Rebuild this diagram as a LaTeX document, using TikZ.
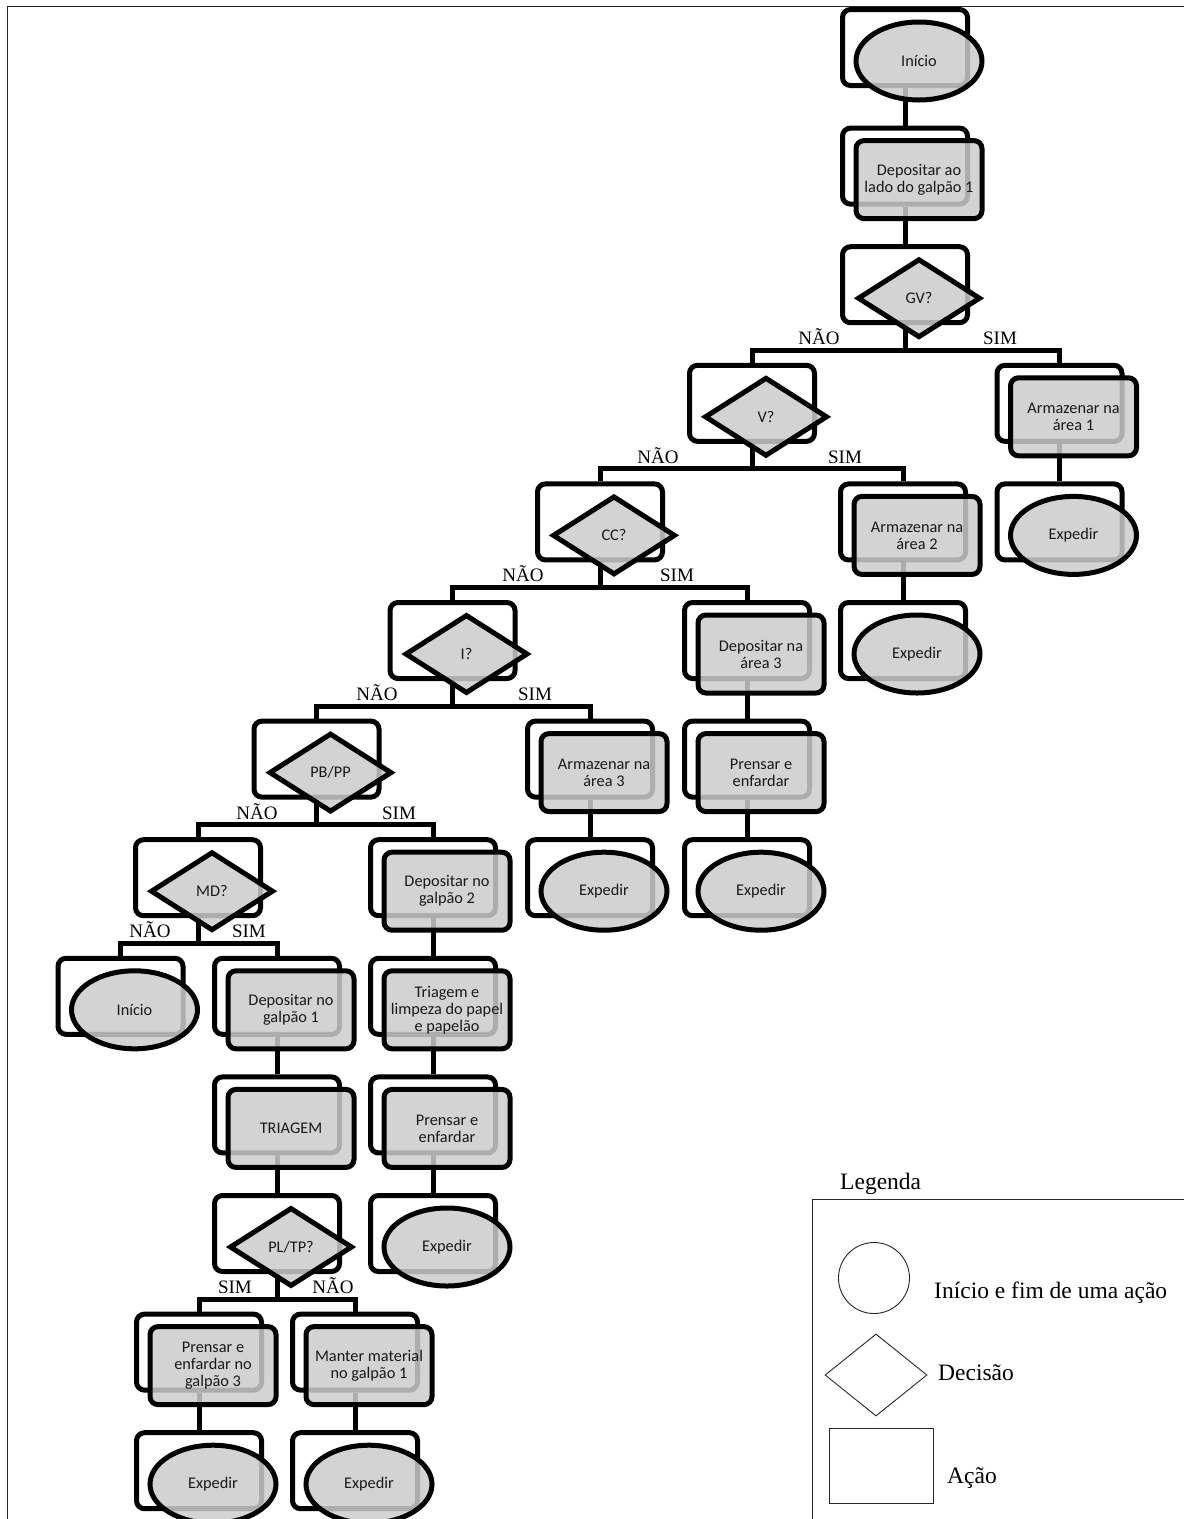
\documentclass[tikz,border=0pt]{standalone}
\usepackage{fontspec}
\setmainfont{Liberation Serif}
\newfontfamily\carlito{Carlito}
\usetikzlibrary{shapes.geometric}
\definecolor{cinzaclaro}{gray}{0.8}

\begin{document}
\begin{tikzpicture}[x=1pt, y=-1pt,
	moldura/.style={draw=black, fill=white, line width=5pt, rounded corners=8pt, shape=rectangle, minimum width=125pt, minimum height=76pt},
	forma/.style={draw=black, fill=cinzaclaro, fill opacity=0.85, text opacity=1, line width=5pt, inner sep=1pt, align=center, text=black!90, font=\carlito\fontsize{16.3}{17}\selectfont},
	acao/.style={forma, shape=rectangle, rounded corners=8pt, minimum width=126pt, minimum height=78pt},
	fim/.style={forma, shape=ellipse, minimum width=126pt, minimum height=78pt},
	decisao/.style={forma, shape=diamond, minimum width=123pt, minimum height=79pt},
	ligacao/.style={draw=black, line width=5pt},
	rotulo/.style={font=\fontsize{19}{20}\selectfont, anchor=base, inner sep=0pt},
	legenda/.style={draw=black!85, line width=0.9pt},
	textolegenda/.style={font=\fontsize{23.5}{26}\selectfont, anchor=base west, inner sep=0pt}]

	\useasboundingbox (0,0) rectangle (1184,1519);
	\clip (0,0) rectangle (1184,1519);
	\draw[legenda] (7.5,6.5) rectangle (1200,1530);

	% molduras brancas
	\node[moldura] (f_inicio) at (905,47.5) {};
	\node[moldura] (f_dep_lado) at (905,166.1) {};
	\node[moldura] (f_gv) at (905,284.7) {};
	\node[moldura] (f_v) at (752,403.3) {};
	\node[moldura] (f_area1) at (1059.5,403.3) {};
	\node[moldura] (f_cc) at (600,521.9) {};
	\node[moldura] (f_area2) at (903,521.9) {};
	\node[moldura] (f_exp_a1) at (1059.5,521.9) {};
	\node[moldura] (f_i) at (452.5,640.5) {};
	\node[moldura] (f_dep_a3) at (747,640.5) {};
	\node[moldura] (f_exp_a2) at (903,640.5) {};
	\node[moldura] (f_pbpp) at (316.5,759.1) {};
	\node[moldura] (f_area3) at (590,759.1) {};
	\node[moldura] (f_prensar_a) at (747,759.1) {};
	\node[moldura] (f_md) at (198,877.7) {};
	\node[moldura] (f_dep_g2) at (433,877.7) {};
	\node[moldura] (f_exp_a3) at (590,877.7) {};
	\node[moldura] (f_exp_pa) at (747,877.7) {};
	\node[moldura] (f_inicio_2) at (120.5,996.3) {};
	\node[moldura] (f_dep_g1) at (277,996.3) {};
	\node[moldura] (f_triag_limp) at (433,996.3) {};
	\node[moldura] (f_triagem) at (277,1114.9) {};
	\node[moldura] (f_prensar_b) at (433,1114.9) {};
	\node[moldura] (f_pltp) at (277,1233.5) {};
	\node[moldura] (f_exp_pb) at (433,1233.5) {};
	\node[moldura] (f_prensar_g3) at (199,1352.1) {};
	\node[moldura] (f_manter) at (355,1352.1) {};
	\node[moldura] (f_exp_g3) at (199,1470.7) {};
	\node[moldura] (f_exp_m) at (355,1470.7) {};

	% ligacoes
	\draw[ligacao] (f_inicio.south) -- (f_dep_lado.north);
	\draw[ligacao] (f_dep_lado.south) -- (f_gv.north);
	\draw[ligacao] (f_gv.south) -- ++(0,25) -| (f_v.north);
	\draw[ligacao] (f_gv.south) -- ++(0,25) -| (f_area1.north);
	\draw[ligacao] (f_area1.south) -- (f_exp_a1.north);
	\draw[ligacao] (f_v.south) -- ++(0,25) -| (f_cc.north);
	\draw[ligacao] (f_v.south) -- ++(0,25) -| (f_area2.north);
	\draw[ligacao] (f_area2.south) -- (f_exp_a2.north);
	\draw[ligacao] (f_cc.south) -- ++(0,25) -| (f_i.north);
	\draw[ligacao] (f_cc.south) -- ++(0,25) -| (f_dep_a3.north);
	\draw[ligacao] (f_dep_a3.south) -- (f_prensar_a.north);
	\draw[ligacao] (f_prensar_a.south) -- (f_exp_pa.north);
	\draw[ligacao] (f_i.south) -- ++(0,25) -| (f_pbpp.north);
	\draw[ligacao] (f_i.south) -- ++(0,25) -| (f_area3.north);
	\draw[ligacao] (f_area3.south) -- (f_exp_a3.north);
	\draw[ligacao] (f_pbpp.south) -- ++(0,25) -| (f_md.north);
	\draw[ligacao] (f_pbpp.south) -- ++(0,25) -| (f_dep_g2.north);
	\draw[ligacao] (f_dep_g2.south) -- (f_triag_limp.north);
	\draw[ligacao] (f_triag_limp.south) -- (f_prensar_b.north);
	\draw[ligacao] (f_prensar_b.south) -- (f_exp_pb.north);
	\draw[ligacao] (f_md.south) -- ++(0,25) -| (f_inicio_2.north);
	\draw[ligacao] (f_md.south) -- ++(0,25) -| (f_dep_g1.north);
	\draw[ligacao] (f_dep_g1.south) -- (f_triagem.north);
	\draw[ligacao] (f_triagem.south) -- (f_pltp.north);
	\draw[ligacao] (f_pltp.south) -- ++(0,25) -| (f_prensar_g3.north);
	\draw[ligacao] (f_pltp.south) -- ++(0,25) -| (f_manter.north);
	\draw[ligacao] (f_prensar_g3.south) -- (f_exp_g3.north);
	\draw[ligacao] (f_manter.south) -- (f_exp_m.north);

	% formas cinzentas
	\node[fim] (inicio) at (919,61) {Início};
	\node[acao] (dep_lado) at (919,179.6) {Depositar ao\\lado do galpão 1};
	\node[decisao] (gv) at (919,298.2) {GV?};
	\node[decisao] (v) at (766,416.8) {V?};
	\node[acao] (area1) at (1073.5,416.8) {Armazenar na\\área 1};
	\node[decisao] (cc) at (614,535.4) {CC?};
	\node[acao] (area2) at (917,535.4) {Armazenar na\\área 2};
	\node[fim] (exp_a1) at (1073.5,535.4) {Expedir};
	\node[decisao] (i) at (466.5,654) {I?};
	\node[acao] (dep_a3) at (761,654) {Depositar na\\área 3};
	\node[fim] (exp_a2) at (917,654) {Expedir};
	\node[decisao] (pbpp) at (330.5,772.6) {PB/PP};
	\node[acao] (area3) at (604,772.6) {Armazenar na\\área 3};
	\node[acao] (prensar_a) at (761,772.6) {Prensar e\\enfardar};
	\node[decisao] (md) at (212,891.2) {MD?};
	\node[acao] (dep_g2) at (447,891.2) {Depositar no\\galpão 2};
	\node[fim] (exp_a3) at (604,891.2) {Expedir};
	\node[fim] (exp_pa) at (761,891.2) {Expedir};
	\node[fim] (inicio_2) at (134.5,1009.8) {Início};
	\node[acao] (dep_g1) at (291,1009.8) {Depositar no\\galpão 1};
	\node[acao] (triag_limp) at (447,1009.8) {Triagem e\\limpeza do papel\\e papelão};
	\node[acao] (triagem) at (291,1128.4) {TRIAGEM};
	\node[acao] (prensar_b) at (447,1128.4) {Prensar e\\enfardar};
	\node[decisao] (pltp) at (291,1247) {PL/TP?};
	\node[fim] (exp_pb) at (447,1247) {Expedir};
	\node[acao] (prensar_g3) at (213,1365.6) {Prensar e\\enfardar no\\galpão 3};
	\node[acao] (manter) at (369,1365.6) {Manter material\\no galpão 1};
	\node[fim] (exp_g3) at (213,1484.2) {Expedir};
	\node[fim] (exp_m) at (369,1484.2) {Expedir};

	% rotulos dos ramos
	\node[rotulo] (gv_nao) at (819,344) {NÃO};
	\node[rotulo] (gv_sim) at (1000,344) {SIM};
	\node[rotulo] (v_nao) at (658,463) {NÃO};
	\node[rotulo] (v_sim) at (845,463) {SIM};
	\node[rotulo] (cc_nao) at (523,581) {NÃO};
	\node[rotulo] (cc_sim) at (677,581) {SIM};
	\node[rotulo] (i_nao) at (377,700) {NÃO};
	\node[rotulo] (i_sim) at (535,700) {SIM};
	\node[rotulo] (pbpp_nao) at (257,819) {NÃO};
	\node[rotulo] (pbpp_sim) at (399,819) {SIM};
	\node[rotulo] (md_nao) at (150,937) {NÃO};
	\node[rotulo] (md_sim) at (249,937) {SIM};
	\node[rotulo] (pltp_sim) at (235,1293) {SIM};
	\node[rotulo] (pltp_nao) at (333,1293) {NÃO};

	% legenda
	\node[textolegenda] (leg_titulo) at (840,1189) {Legenda};
	\draw[legenda] (812,1530) -- (812,1199) -- (1200,1199);
	\node[legenda, shape=circle, minimum size=71pt] (leg_circ) at (874,1278) {};
	\node[textolegenda] (leg_circ_txt) at (934,1298) {Início e fim de uma ação};
	\node[legenda, shape=diamond, minimum width=102pt, minimum height=82pt] (leg_dec) at (876,1375) {};
	\node[textolegenda] (leg_dec_txt) at (938,1380) {Decisão};
	\node[legenda, shape=rectangle, minimum width=104pt, minimum height=75pt] (leg_acao) at (881,1465.5) {};
	\node[textolegenda] (leg_acao_txt) at (947,1483) {Ação};
\end{tikzpicture}
\end{document}
